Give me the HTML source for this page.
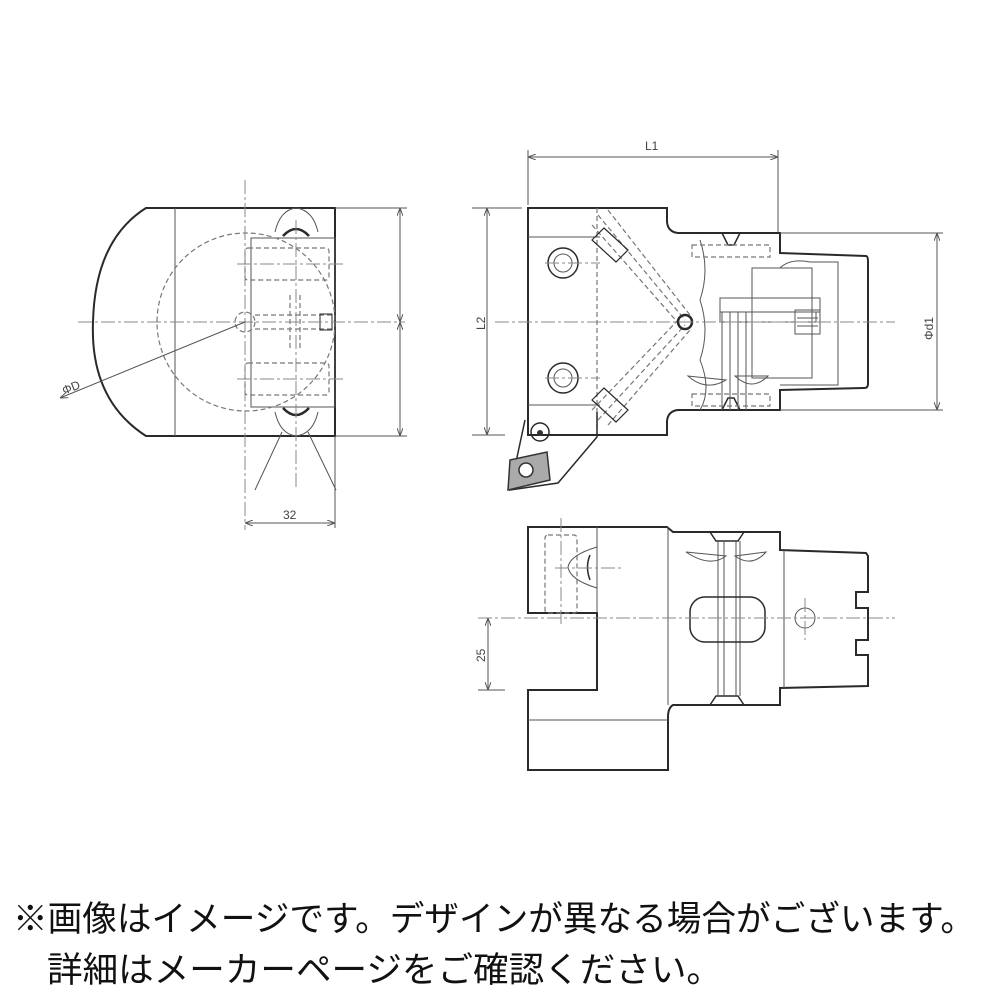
<!DOCTYPE html>
<html><head><meta charset="utf-8"><style>
html,body{margin:0;padding:0;background:#fff;width:1000px;height:1000px;overflow:hidden}
svg{display:block}
.o{fill:none;stroke:#2a2a2a;stroke-width:2}
.t{fill:none;stroke:#555;stroke-width:1}
.h{fill:none;stroke:#777;stroke-width:1.2;stroke-dasharray:5 3}
.c{fill:none;stroke:#888;stroke-width:1;stroke-dasharray:14 3 3 3}
.d{fill:none;stroke:#555;stroke-width:1}
.lbl{font-family:"Liberation Sans",sans-serif;font-size:12px;fill:#444}
.jp{font-family:"Liberation Sans","Noto Sans CJK JP",sans-serif;font-size:35px;fill:#111}
</style></head><body>
<svg width="1000" height="1000" viewBox="0 0 1000 1000" xmlns="http://www.w3.org/2000/svg">
<defs>
<marker id="a" markerWidth="8" markerHeight="6" refX="8" refY="3" orient="auto-start-reverse"><path d="M0,0 L8,3 L0,6" fill="none" stroke="#555" stroke-width="1"/></marker>
</defs>

<!-- LEFT VIEW -->
<path class="o" d="M146,208 L335,208 L335,436 L146,436 Q90,400 93,322 Q95,240 146,208 Z"/>
<line class="t" x1="175" y1="208" x2="175" y2="436"/>
<rect class="t" x="251" y="238" width="84" height="169"/>
<circle class="h" cx="246" cy="322" r="89"/>
<circle class="h" cx="245" cy="322" r="10"/>
<rect class="h" x="245" y="248" width="84" height="32" rx="3"/>
<rect class="h" x="245" y="363" width="84" height="32" rx="3"/>
<line class="h" x1="290" y1="295" x2="290" y2="350"/><line class="h" x1="300" y1="295" x2="300" y2="350"/>
<line class="h" x1="255" y1="315" x2="335" y2="315"/><line class="h" x1="255" y1="329" x2="335" y2="329"/>
<rect class="o" x="320" y="314" width="12" height="16" style="stroke-width:1"/>
<path class="t" d="M275,232 Q280,210 296,208 Q313,210 318,232"/>
<path class="o" d="M283,236 Q296,222 309,236" style="stroke-width:2.5"/>
<path class="t" d="M275,412 Q280,434 296,436 Q313,434 318,412"/>
<path class="o" d="M283,408 Q296,422 309,408" style="stroke-width:2.5"/>
<line class="c" x1="245" y1="180" x2="245" y2="530"/>
<line class="c" x1="296" y1="220" x2="296" y2="490"/>
<line class="c" x1="78" y1="322" x2="405" y2="322"/>
<line class="c" x1="237" y1="264" x2="345" y2="264"/>
<line class="c" x1="237" y1="379" x2="345" y2="379"/>
<line class="t" x1="282" y1="432" x2="255" y2="490"/>
<line class="t" x1="308" y1="432" x2="336" y2="490"/>
<line class="d" x1="245" y1="322" x2="60" y2="398" marker-end="url(#a)"/>
<text class="lbl" x="62" y="392" transform="rotate(-22 70 388)">ΦD</text>
<line class="d" x1="335" y1="208" x2="407" y2="208"/><line class="d" x1="335" y1="436" x2="407" y2="436"/>
<line class="d" x1="400" y1="208" x2="400" y2="322" marker-start="url(#a)" marker-end="url(#a)"/>
<line class="d" x1="400" y1="322" x2="400" y2="436" marker-start="url(#a)" marker-end="url(#a)"/>
<line class="d" x1="335" y1="436" x2="335" y2="528"/>
<line class="d" x1="245" y1="523" x2="335" y2="523" marker-start="url(#a)" marker-end="url(#a)"/>
<text class="lbl" x="283" y="519">32</text>

<!-- RIGHT TOP VIEW -->
<path class="o" d="M528,208 L667,208 L667,222 Q668,232 678,233 L780,233 L780,253 L866,256 Q868,256 868,262 L868,384 Q868,388 864,388 L780,390 L780,410 L678,410 Q668,411 667,421 L667,435 L528,435 Z"/>
<path class="o" d="M722,233 L728,245 L734,245 L740,233" style="stroke-width:1.5"/>
<path class="o" d="M722,410 L728,398 L734,398 L740,410" style="stroke-width:1.5"/>
<line class="t" x1="528" y1="237" x2="600" y2="237"/>
<line class="t" x1="528" y1="405" x2="600" y2="405"/>
<line class="h" x1="597" y1="208" x2="597" y2="435"/>
<path class="t" d="M700,240 Q710,270 700,300 Q710,330 700,360 Q712,390 700,410"/>
<rect class="t" x="752" y="268" width="60" height="110"/>
<path class="t" d="M780,268 Q790,258 810,262 L838,262 L838,385 L780,385"/>
<rect class="t" x="720" y="298" width="100" height="14"/>
<rect class="t" x="720" y="312" width="96" height="10"/>
<rect class="t" x="795" y="310" width="25" height="24"/>
<line class="t" x1="797" y1="318" x2="818" y2="318"/><line class="t" x1="797" y1="326" x2="818" y2="326"/>
<line class="t" x1="722" y1="312" x2="722" y2="410"/><line class="t" x1="730" y1="312" x2="730" y2="410"/>
<line class="t" x1="738" y1="312" x2="738" y2="410"/><line class="t" x1="746" y1="312" x2="746" y2="410"/>
<path class="t" d="M688,376 Q706,392 726,380 Z M735,376 Q752,392 768,376 Z"/>
<rect class="h" x="692" y="245" width="78" height="12"/>
<rect class="h" x="692" y="394" width="78" height="12"/>
<circle class="o" cx="563" cy="263" r="15" style="stroke-width:1.5"/><circle class="t" cx="563" cy="263" r="9"/>
<circle class="o" cx="563" cy="378" r="15" style="stroke-width:1.5"/><circle class="t" cx="563" cy="378" r="9"/>
<line class="c" x1="545" y1="263" x2="600" y2="263"/><line class="c" x1="545" y1="378" x2="600" y2="378"/>
<line class="h" x1="598" y1="215" x2="685" y2="320"/><line class="h" x1="608" y1="210" x2="690" y2="315"/>
<line class="h" x1="592" y1="225" x2="680" y2="325"/>
<line class="h" x1="598" y1="420" x2="685" y2="325"/><line class="h" x1="608" y1="425" x2="690" y2="330"/>
<line class="h" x1="592" y1="410" x2="680" y2="318"/>
<path class="o" d="M592,240 L604,228 L628,250 L616,262 Z" style="stroke-width:1.2"/>
<path class="o" d="M592,400 L604,388 L628,410 L616,422 Z" style="stroke-width:1.2"/>
<circle class="o" cx="685" cy="322" r="7" style="stroke-width:2.5"/>
<line class="c" x1="495" y1="322" x2="895" y2="322"/>
<path class="o" d="M525,420 L510,490 L558,483 L597,437 L597,412" style="stroke-width:1.5"/>
<path d="M510,460 L547,452 L550,480 L508,490 Z" fill="#aaa" stroke="#333" stroke-width="1.5"/>
<circle cx="526" cy="470" r="7" fill="#fff" stroke="#333" stroke-width="1.5"/>
<circle class="o" cx="540" cy="432" r="9" style="stroke-width:1.5"/>
<circle cx="540" cy="433" r="3" fill="#333"/>
<line class="d" x1="528" y1="150" x2="528" y2="205"/><line class="d" x1="778" y1="150" x2="778" y2="232"/>
<line class="d" x1="528" y1="157" x2="778" y2="157" marker-start="url(#a)" marker-end="url(#a)"/>
<text class="lbl" x="645" y="150">L1</text>
<line class="d" x1="472" y1="208" x2="522" y2="208"/><line class="d" x1="472" y1="435" x2="505" y2="435"/>
<line class="d" x1="487" y1="208" x2="487" y2="435" marker-start="url(#a)" marker-end="url(#a)"/>
<text class="lbl" x="0" y="0" transform="translate(485,330) rotate(-90)">L2</text>
<line class="d" x1="780" y1="233" x2="943" y2="233"/><line class="d" x1="780" y1="410" x2="943" y2="410"/>
<line class="d" x1="937" y1="233" x2="937" y2="410" marker-start="url(#a)" marker-end="url(#a)"/>
<text class="lbl" x="0" y="0" transform="translate(933,340) rotate(-90)">Φd1</text>

<!-- BOTTOM VIEW -->
<path class="o" d="M528,527 L667,527 L673,532 L780,532 L780,550 L866,553 L868,556 L868,592 L856,592 L856,608 L868,608 L868,640 L856,640 L856,655 L868,655 L868,686 L780,688 L780,705 L673,705 Q668,708 668,717 L668,770 L528,770 L528,690 L597,690 L597,613 L528,613 Z"/>
<path class="o" d="M710,532 L716,541 L738,541 L744,532" style="stroke-width:1.5"/>
<path class="o" d="M710,705 L716,696 L738,696 L744,705" style="stroke-width:1.5"/>
<line class="t" x1="668" y1="527" x2="668" y2="705"/>
<line class="t" x1="528" y1="720" x2="668" y2="720"/>
<line class="t" x1="597" y1="527" x2="597" y2="613"/>
<line class="t" x1="718" y1="541" x2="718" y2="696"/><line class="t" x1="724" y1="541" x2="724" y2="696"/>
<line class="t" x1="736" y1="541" x2="736" y2="696"/><line class="t" x1="740" y1="541" x2="740" y2="696"/>
<line class="t" x1="784" y1="550" x2="784" y2="688"/>
<path class="t" d="M686,552 Q710,568 726,556 Z M735,556 Q752,568 766,552 Z"/>
<rect class="o" x="690" y="597" width="75" height="45" rx="15" style="stroke-width:1.5"/>
<circle class="t" cx="805" cy="618" r="10"/>
<line class="c" x1="805" y1="598" x2="805" y2="640"/>
<rect class="h" x="545" y="535" width="32" height="78" rx="3"/>
<path class="t" d="M597,547 Q570,555 568,567 Q570,580 597,588"/>
<path class="o" d="M590,555 Q585,567 590,580" style="stroke-width:1.5"/>
<line class="c" x1="555" y1="568" x2="622" y2="568"/>
<line class="c" x1="561" y1="518" x2="561" y2="625"/>
<line class="c" x1="478" y1="618" x2="895" y2="618"/>
<line class="d" x1="478" y1="690" x2="505" y2="690"/>
<line class="d" x1="488" y1="618" x2="488" y2="690" marker-start="url(#a)" marker-end="url(#a)"/>
<text class="lbl" x="0" y="0" transform="translate(485,662) rotate(-90)">25</text>

<!-- TEXT -->
<text class="jp" x="13" y="931" textLength="962" lengthAdjust="spacingAndGlyphs">※画像はイメージです。デザインが異なる場合がございます。</text>
<text class="jp" x="47" y="982" textLength="675" lengthAdjust="spacingAndGlyphs">詳細はメーカーページをご確認ください。</text>
</svg>
</body></html>
